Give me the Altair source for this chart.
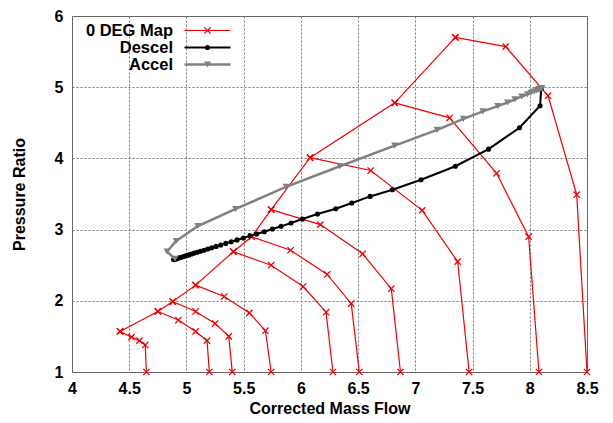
import altair as alt
import pandas as pd

# ---- data ----
series_names = ["0 DEG Map", "Descel", "Accel"]
series_colors = ["#f00000", "#000000", "#808080"]

# constant-speed lines of the map (each list goes from surge to choke)
map_x = [
    [4.42, 4.52, 4.59, 4.64, 4.65],
    [4.75, 4.93, 5.08, 5.18, 5.20],
    [4.88, 5.08, 5.25, 5.37, 5.40],
    [5.08, 5.33, 5.55, 5.69, 5.74],
    [5.41, 5.74, 6.02, 6.22, 6.28],
    [5.57, 5.91, 6.23, 6.44, 6.51],
    [5.74, 6.17, 6.54, 6.79, 6.87],
    [6.08, 6.61, 7.06, 7.37, 7.47],
    [6.82, 7.30, 7.71, 7.99, 8.08],
    [7.35, 7.79, 8.16, 8.41, 8.50],
]
map_y = [
    [1.57, 1.49, 1.44, 1.38, 1.00],
    [1.85, 1.73, 1.57, 1.44, 1.00],
    [1.99, 1.85, 1.68, 1.50, 1.00],
    [2.22, 2.06, 1.83, 1.58, 1.00],
    [2.69, 2.50, 2.20, 1.84, 1.00],
    [2.90, 2.71, 2.37, 1.96, 1.00],
    [3.28, 3.07, 2.66, 2.17, 1.00],
    [4.01, 3.83, 3.27, 2.55, 1.00],
    [4.78, 4.57, 3.79, 2.90, 1.00],
    [5.70, 5.57, 4.88, 3.49, 1.00],
]

descel_x = [8.10, 8.09, 7.91, 7.64, 7.35, 7.05, 6.80, 6.605, 6.445, 6.305,
            6.145, 6.013, 5.914, 5.827, 5.751, 5.681, 5.614, 5.556, 5.497,
            5.442, 5.391, 5.344, 5.300, 5.259, 5.221, 5.186, 5.153, 5.122,
            5.094, 5.068, 5.044, 5.021, 5.000, 4.981, 4.963, 4.946, 4.930,
            4.915, 4.901, 4.888]
descel_y = [4.98, 4.74, 4.43, 4.13, 3.89, 3.70, 3.56, 3.466, 3.373, 3.293,
            3.219, 3.149, 3.093, 3.046, 3.008, 2.970, 2.938, 2.914, 2.882,
            2.855, 2.829, 2.806, 2.784, 2.764, 2.745, 2.727, 2.711, 2.695,
            2.681, 2.669, 2.657, 2.645, 2.635, 2.625, 2.616, 2.608, 2.600,
            2.592, 2.585, 2.579]

accel_x = [4.90, 4.83, 4.91, 5.10, 5.43, 5.87, 6.34, 6.82, 7.19, 7.42, 7.59,
           7.72, 7.805, 7.87, 7.93, 7.98, 8.01, 8.04, 8.06, 8.075, 8.085,
           8.095, 8.10, 8.105]
accel_y = [2.59, 2.69, 2.84, 3.05, 3.29, 3.60, 3.89, 4.18, 4.40, 4.555, 4.66,
           4.735, 4.785, 4.83, 4.87, 4.90, 4.92, 4.94, 4.955, 4.966, 4.973,
           4.98, 4.983, 4.986]

x_ticks = [4, 4.5, 5, 5.5, 6, 6.5, 7, 7.5, 8, 8.5]
y_ticks = [1, 2, 3, 4, 5, 6]

# ---- build table ----
rows = []
for i, (xs, ys) in enumerate(zip(map_x, map_y)):
    for j, (a, b) in enumerate(zip(xs, ys)):
        rows.append({"series": "0 DEG Map", "line": f"speed{i}", "idx": j, "x": a, "y": b})
# surge line through the first point of every speed line
for i, (xs, ys) in enumerate(zip(map_x, map_y)):
    rows.append({"series": "0 DEG Map", "line": "surge", "idx": i, "x": xs[0], "y": ys[0]})
for j, (a, b) in enumerate(zip(descel_x, descel_y)):
    rows.append({"series": "Descel", "line": "descel", "idx": j, "x": a, "y": b})
for j, (a, b) in enumerate(zip(accel_x, accel_y)):
    rows.append({"series": "Accel", "line": "accel", "idx": j, "x": a, "y": b})
df = pd.DataFrame(rows)

FONT = "Liberation Sans"
XPATH = "M-1,-1L1,1M-1,1L1,-1"

# per-series styles
line_widths = [1.2, 2.0, 2.5]
point_shapes = [XPATH, "circle", "triangle-down"]
point_sizes = [40, 26, 50]
point_filled = [False, True, True]

base = alt.Chart(df).encode(
    x=alt.X("x:Q", scale=alt.Scale(domain=[4, 8.5], nice=False, zero=False),
            axis=alt.Axis(values=x_ticks, labelExpr="'' + datum.value",
                          title="Corrected Mass Flow")),
    y=alt.Y("y:Q", scale=alt.Scale(domain=[1, 6], nice=False, zero=False),
            axis=alt.Axis(values=y_ticks, labelExpr="'' + datum.value",
                          title="Pressure Ratio")),
    color=alt.Color("series:N", scale=alt.Scale(domain=series_names, range=series_colors),
                    legend=None),
    detail="line:N",
    order="idx:Q",
)

layers = []
for k, name in enumerate(series_names):
    sub = base.transform_filter(alt.datum.series == name)
    layers.append(sub.mark_line(strokeWidth=line_widths[k]))
    if point_filled[k]:
        layers.append(sub.mark_point(shape=point_shapes[k], size=point_sizes[k],
                                     filled=True, opacity=1))
    else:
        layers.append(sub.mark_point(shape=point_shapes[k], size=point_sizes[k],
                                     filled=False, strokeWidth=1.3, opacity=1))

# ---- key (top-left, labels right-aligned before the line samples) ----
legend_df = pd.DataFrame({"series": series_names})
key_text_x = 101
key_line_x1, key_line_x2, key_mark_x = 112.5, 158.5, 135.5
key_rows_y = [14.5, 31.5, 48.5]
for k, name in enumerate(series_names):
    kb = alt.Chart(legend_df).transform_filter(alt.datum.series == name)
    layers.append(kb.mark_text(align="right", baseline="middle", font=FONT, fontSize=16.5,
                               fontWeight="bold", color="black").encode(
        x=alt.value(key_text_x), y=alt.value(key_rows_y[k]), text="series:N"))
    layers.append(kb.mark_rule(color=series_colors[k], strokeWidth=line_widths[k]).encode(
        x=alt.value(key_line_x1), x2=alt.value(key_line_x2), y=alt.value(key_rows_y[k])))
    if point_filled[k]:
        pm = kb.mark_point(shape=point_shapes[k], size=point_sizes[k], filled=True,
                           opacity=1, color=series_colors[k])
    else:
        pm = kb.mark_point(shape=point_shapes[k], size=point_sizes[k], filled=False,
                           strokeWidth=1.3, opacity=1, color=series_colors[k])
    layers.append(pm.encode(x=alt.value(key_mark_x), y=alt.value(key_rows_y[k])))

chart = alt.layer(*layers).properties(
    width=515,
    height=356,
    autosize=alt.AutoSizeParams(type="none"),
    padding={"left": 72, "top": 16, "right": 26, "bottom": 51},
).configure_view(
    stroke="#555555", strokeWidth=1
).configure_axis(
    labelFont=FONT, labelFontSize=16, labelFontWeight="bold", labelColor="black",
    titleFont=FONT, titleFontSize=16, titleFontWeight="bold", titleColor="black",
    domain=False, ticks=False, labelFlush=False,
    grid=True, gridColor="#777777", gridDash=[2, 2], gridWidth=1, gridOpacity=1,
).configure_axisX(
    labelPadding=8, titlePadding=4,
).configure_axisY(
    labelPadding=9, titlePadding=27,
)

chart.save("out.html", embed_options={"renderer": "svg", "actions": False})
